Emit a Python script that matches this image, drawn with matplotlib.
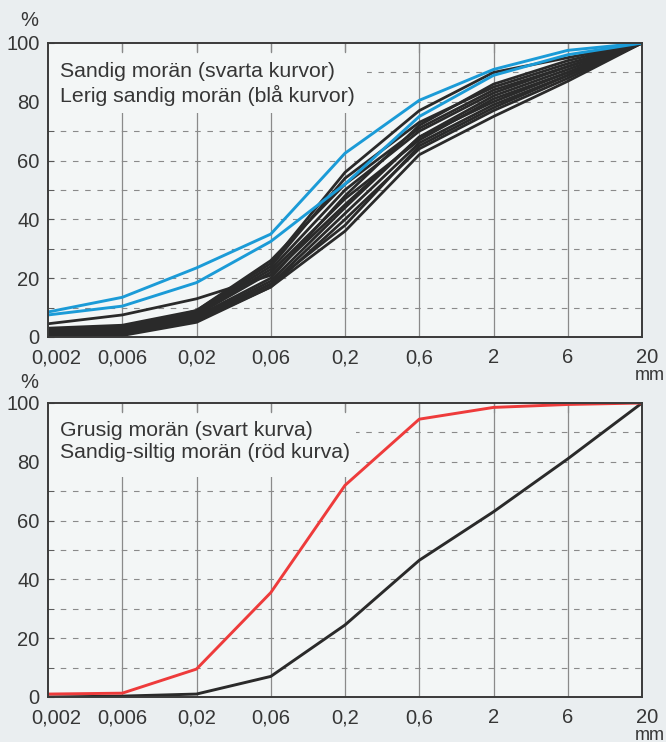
import matplotlib
matplotlib.use("Agg")
import matplotlib.pyplot as plt
from matplotlib.patches import Rectangle
from matplotlib.transforms import ScaledTranslation

plt.rcParams['font.family'] = ['Liberation Sans', 'DejaVu Sans']

# ---- data ----
sizes = ["0,002", "0,006", "0,02", "0,06", "0,2", "0,6", "2", "6", "20"]

# top panel: black curves (Sandig morän)
black_curves = [
    [4.5, 7.5, 13, 21, 45, 68, 80, 90, 100],
    [3, 4, 9, 25, 56, 77, 90, 95, 100],
    [2.5, 3.5, 8.5, 24, 54, 73, 85, 93, 100],
    [2, 3, 8, 23, 50, 70, 83, 92, 100],
    [1.5, 2.5, 7, 20, 48, 72, 86, 94, 100],
    [1, 2, 6.5, 19, 44, 68, 82, 91, 100],
    [1, 1.5, 6, 18, 42, 66, 79, 89, 100],
    [0.5, 1, 5.5, 17, 40, 64, 77, 88, 100],
    [0.5, 0.5, 5, 17, 36, 62, 75, 87, 100],
    [2, 3, 7.5, 22, 47, 67, 81, 90, 100],
    [1.5, 2, 9, 26, 52, 71, 84, 92, 100],
    [0.8, 1, 6, 18, 38, 65, 78, 89, 100],
]
# top panel: blue curves (Lerig sandig morän)
blue_curves = [
    [8.5, 13.5, 23.5, 35, 62.5, 80.5, 91, 97.5, 100],
    [7.5, 10.5, 18.5, 32.5, 52, 75, 89, 96, 100],
]
# bottom panel
grusig = [0, 0.3, 1, 7, 24.5, 46.5, 63, 81, 100]                 # black
sandig_siltig = [1, 1.3, 9.5, 35.5, 72, 94.5, 98.5, 99.5, 100]   # red

top_labels = ["Sandig morän (svarta kurvor)", "Lerig sandig morän (blå kurvor)"]
bot_labels = ["Grusig morän (svart kurva)", "Sandig-siltig morän (röd kurva)"]

# ---- style ----
W, H = 666, 742
fig = plt.figure(figsize=(W / 100, H / 100), dpi=100)
figbg = '#eaeef0'
axbg = '#f3f6f6'
fig.patch.set_facecolor(figbg)

FS_TICK = 14.5
FS_TXT = 15.3
BLACK = '#2a2a2a'
BLUE = '#1b9bd7'
RED = '#ee3b3b'
GRID = '#8a8a8a'
TXT = '#363636'

def px2fig(x0, y0, x1, y1):
    return [x0 / W, 1 - y1 / H, (x1 - x0) / W, (y1 - y0) / H]

ax1 = fig.add_axes(px2fig(48, 43, 642, 337))
ax2 = fig.add_axes(px2fig(48, 403, 642, 697))

xs = list(range(len(sizes)))

def setup(ax, box, labels, text_y, pct_y, mm_y):
    ax.set_facecolor(axbg)
    ax.set_xlim(0, len(sizes) - 1)
    ax.set_ylim(0, 100)
    for v in range(10, 100, 10):
        ax.axhline(v, color=GRID, lw=0.8, ls=(0, (5, 6)), zorder=1)
    for x in xs[1:-1]:
        ax.axvline(x, color=GRID, lw=0.9, zorder=1)
    # text box covering grid
    bx0, by0, bx1, by1 = box
    ax.add_patch(Rectangle((bx0, by0), bx1 - bx0, by1 - by0, facecolor=axbg,
                           edgecolor='none', zorder=2))
    ax.text(0.16, text_y[0], labels[0], fontsize=FS_TXT, color=TXT, va='baseline', ha='left', zorder=5)
    ax.text(0.16, text_y[1], labels[1], fontsize=FS_TXT, color=TXT, va='baseline', ha='left', zorder=5)
    for s in ax.spines.values():
        s.set_color('#3a3a3a')
        s.set_linewidth(1.4)
        s.set_zorder(6)
    ax.set_xticks(xs)
    ax.set_xticklabels(sizes)
    ax.set_yticks(range(0, 101, 20))
    ax.set_yticks(range(10, 100, 20), minor=True)
    ax.tick_params(axis='both', which='both', direction='in', colors='#555555',
                   labelcolor=TXT, labelsize=FS_TICK)
    ax.tick_params(axis='x', length=0, pad=8)
    ax.tick_params(axis='y', which='major', length=4, pad=6)
    ax.tick_params(axis='y', which='minor', length=4)
    # top inner ticks
    for x in xs[1:-1]:
        ax.plot([x, x], [100, 97], color=GRID, lw=0.9, zorder=3, clip_on=False)
    lbls = ax.get_xticklabels()
    lbls[0].set_transform(lbls[0].get_transform() + ScaledTranslation(8 / 100, 0, fig.dpi_scale_trans))
    lbls[-1].set_transform(lbls[-1].get_transform() + ScaledTranslation(5 / 100, 0, fig.dpi_scale_trans))
    fig.text(29 / W, 1 - pct_y / H, "%", fontsize=FS_TICK, color=TXT, ha='center', va='center')
    fig.text(665 / W, 1 - mm_y / H, "mm", fontsize=FS_TICK - 1.5, color=TXT, ha='right', va='center')

setup(ax1, (0, 76.2, 4.3, 97), top_labels, (88.3, 79.8), 20, 375)
setup(ax2, (0, 74.8, 4.15, 97), bot_labels, (88.8, 81.3), 383, 735)

for c in black_curves:
    ax1.plot(xs, c, color=BLACK, lw=2.0, zorder=3, solid_joinstyle='round')
for c in blue_curves:
    ax1.plot(xs, c, color=BLUE, lw=2.1, zorder=4)

ax2.plot(xs, grusig, color=BLACK, lw=2.1, zorder=3)
ax2.plot(xs, sandig_siltig, color=RED, lw=2.1, zorder=4)

fig.savefig("out.png", dpi=100, facecolor=figbg)
